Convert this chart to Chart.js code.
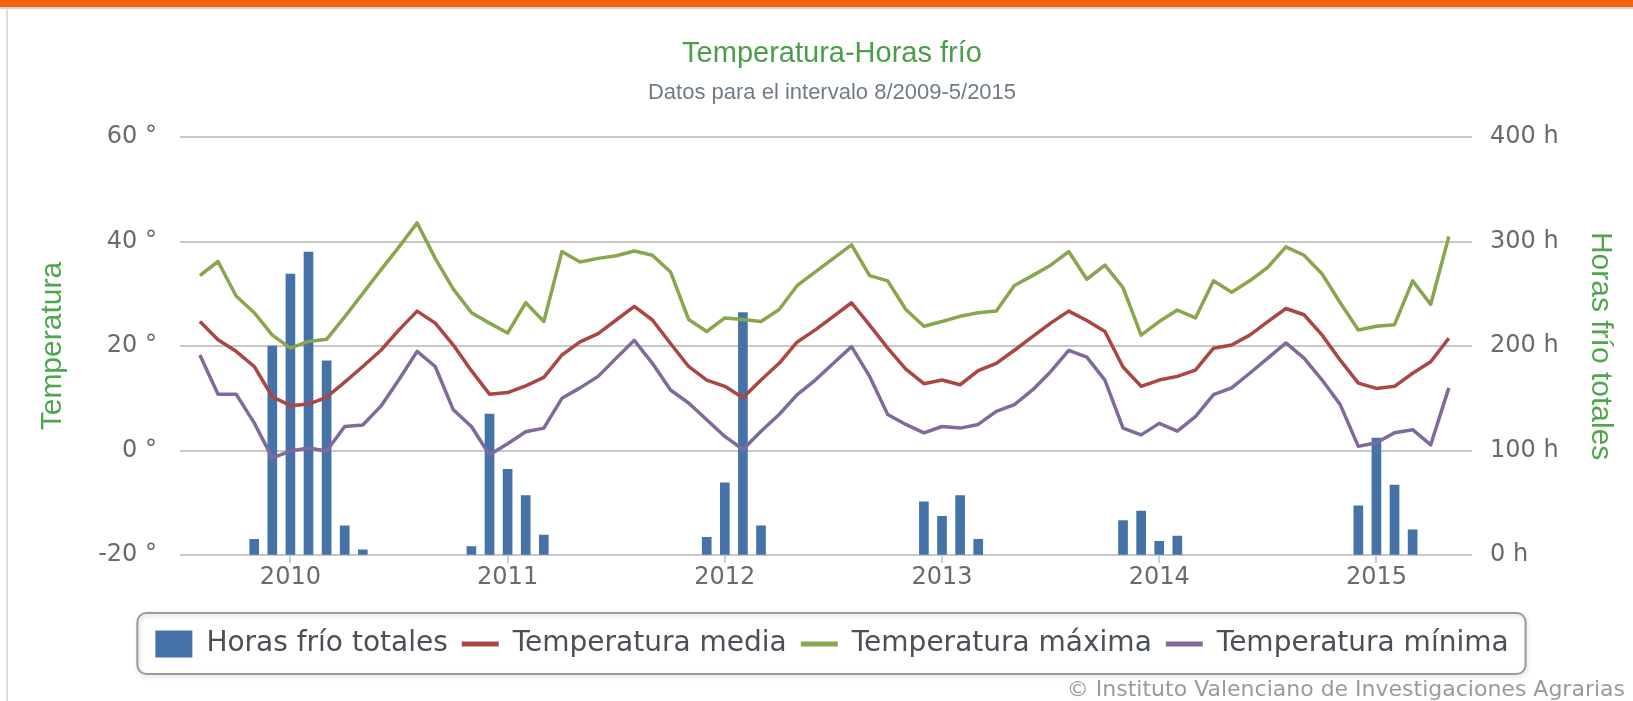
<!DOCTYPE html>
<html lang="es">
<head>
<meta charset="utf-8">
<title>Temperatura-Horas frío</title>
<script src="https://cdn.jsdelivr.net/npm/chart.js@4.4.1/dist/chart.umd.min.js"></script>
<style>
  html, body { margin: 0; padding: 0; background: #fff; overflow: hidden; }
  #top-bar { position: absolute; left: 0; top: 0; width: 1633px; height: 7px; background: #f7630c; }
  #top-rule { position: absolute; left: 0; top: 7px; width: 1633px; height: 2px; background: #d4d4d4; }
  #frame-left { position: absolute; left: 6px; top: 9px; width: 2px; height: 692px; background: #dedede; }
  #chart-wrap { position: absolute; left: 0; top: 0; width: 1633px; height: 701px; }
</style>
</head>
<body>
<div id="top-bar"></div>
<div id="top-rule"></div>
<div id="frame-left"></div>
<div id="chart-wrap"><canvas id="chart" width="1633" height="701"></canvas></div>
<script>
// Monthly values, 8/2009 .. 5/2015
const months = [
  '8/2009', '9/2009', '10/2009', '11/2009', '12/2009',
  '1/2010', '2/2010', '3/2010', '4/2010', '5/2010', '6/2010', '7/2010', '8/2010', '9/2010', '10/2010', '11/2010', '12/2010',
  '1/2011', '2/2011', '3/2011', '4/2011', '5/2011', '6/2011', '7/2011', '8/2011', '9/2011', '10/2011', '11/2011', '12/2011',
  '1/2012', '2/2012', '3/2012', '4/2012', '5/2012', '6/2012', '7/2012', '8/2012', '9/2012', '10/2012', '11/2012', '12/2012',
  '1/2013', '2/2013', '3/2013', '4/2013', '5/2013', '6/2013', '7/2013', '8/2013', '9/2013', '10/2013', '11/2013', '12/2013',
  '1/2014', '2/2014', '3/2014', '4/2014', '5/2014', '6/2014', '7/2014', '8/2014', '9/2014', '10/2014', '11/2014', '12/2014',
  '1/2015', '2/2015', '3/2015', '4/2015', '5/2015',
];

const chill_hours = [
  0, 0, 0, 15, 200,
  269, 290, 186, 28, 5, 0, 0, 0, 0, 0, 8, 135,
  82, 57, 19, 0, 0, 0, 0, 0, 0, 0, 0, 17,
  69, 232, 28, 0, 0, 0, 0, 0, 0, 0, 0, 51,
  37, 57, 15, 0, 0, 0, 0, 0, 0, 0, 33, 42,
  13, 18, 0, 0, 0, 0, 0, 0, 0, 0, 0, 47,
  112, 67, 24, 0, 0,
];

const temp_mean = [
  24.7, 21.2, 19.0, 16.1, 10.3,
  8.6, 8.9, 10.2, 13.1, 16.1, 19.2, 23.1, 26.7, 24.4, 20.2, 15.3, 10.8,
  11.1, 12.4, 14.0, 18.3, 20.8, 22.4, 25.0, 27.6, 25.0, 20.5, 16.1, 13.5,
  12.3, 10.1, 13.5, 16.7, 20.8, 23.1, 25.7, 28.3, 24.0, 19.6, 15.6, 12.8,
  13.5, 12.6, 15.3, 16.7, 19.2, 21.8, 24.4, 26.7, 24.9, 22.8, 16.0, 12.3,
  13.5, 14.2, 15.4, 19.6, 20.2, 22.1, 24.7, 27.2, 26.0, 22.1, 17.3, 12.9,
  11.9, 12.3, 14.8, 17.0, 21.5,
];

const temp_max = [
  33.5, 36.2, 29.6, 26.4, 22.1,
  19.6, 20.9, 21.3, 25.6, 30.1, 34.6, 39.0, 43.6, 36.8, 30.9, 26.4, 24.4,
  22.5, 28.3, 24.7, 38.1, 36.1, 36.8, 37.3, 38.2, 37.4, 34.2, 25.1, 22.8,
  25.4, 25.1, 24.7, 27.0, 31.6, 34.2, 36.8, 39.4, 33.5, 32.5, 27.0, 23.8,
  24.7, 25.7, 26.4, 26.7, 31.6, 33.5, 35.5, 38.1, 32.8, 35.5, 31.2, 22.1,
  24.7, 26.9, 25.4, 32.5, 30.3, 32.5, 35.1, 39.0, 37.4, 33.8, 28.3, 23.1,
  23.8, 24.1, 32.5, 28.0, 41.0,
];

const temp_min = [
  18.3, 10.8, 10.8, 5.3, -1.4,
  -0.1, 0.5, -0.1, 4.6, 4.9, 8.5, 13.6, 19.0, 16.1, 7.8, 4.6, -0.8,
  1.3, 3.6, 4.3, 10.0, 12.0, 14.2, 17.7, 21.1, 16.7, 11.6, 9.1, 5.9,
  2.7, 0.2, 3.7, 6.9, 10.7, 13.5, 16.7, 19.9, 14.2, 6.9, 5.0, 3.4,
  4.6, 4.3, 5.0, 7.5, 8.8, 11.6, 15.1, 19.2, 17.9, 13.5, 4.3, 3.0,
  5.2, 3.7, 6.5, 10.7, 12.0, 14.8, 17.7, 20.6, 17.7, 13.5, 8.8, 0.8,
  1.5, 3.4, 4.0, 1.1, 12.0,
];

const year_labels = ['2010', '2011', '2012', '2013', '2014', '2015'];
const year_tick_months = ['1/2010', '1/2011', '1/2012', '1/2013', '1/2014', '1/2015'];

const temp_ticks = [-20, 0, 20, 40, 60];
const hour_ticks = [0, 100, 200, 300, 400];

const credits_text = '\u00a9 Instituto Valenciano de Investigaciones Agrarias';

const FONT = '"DejaVu Sans", Verdana, sans-serif';
const TITLE_FONT = '"Liberation Sans", Arial, sans-serif';
const GREEN_TEXT = '#4fa64f';
const LABEL_COLOR = '#6a6a6a';

const year_ticks = year_tick_months.map(m => months.indexOf(m));
const to_points = (values) => values.map((v, i) => ({ x: i, y: v }));
// months without chill hours get no bar at all
const to_bar_points = (values) => values.map((v, i) => ({ x: i, y: v > 0 ? v : null }));

Chart.defaults.font.family = FONT;

// Rounded frame around the legend items, plus the credits line.
const legend_frame = {
  id: 'legend_frame',
  afterDraw(chart) {
    const ctx = chart.ctx;
    const boxes = chart.legend && chart.legend.legendHitBoxes;
    if (boxes && boxes.length) {
      const first = boxes[0];
      const last = boxes[boxes.length - 1];
      const cy = first.top + first.height / 2;
      const left = first.left - 18;
      const right = last.left + last.width + 17;
      ctx.save();
      ctx.shadowColor = 'rgba(0, 0, 0, 0.18)';
      ctx.shadowBlur = 4;
      ctx.shadowOffsetX = 1;
      ctx.shadowOffsetY = 2;
      ctx.strokeStyle = '#9a9a9a';
      ctx.lineWidth = 2;
      ctx.beginPath();
      ctx.roundRect(left, cy - 31, right - left, 61, 9);
      ctx.stroke();
      ctx.restore();
    }
    ctx.save();
    ctx.font = '22px ' + FONT;
    ctx.fillStyle = '#9a9a9a';
    ctx.textAlign = 'right';
    ctx.textBaseline = 'middle';
    ctx.fillText(credits_text, chart.width - 8, chart.height - 11);
    ctx.restore();
  }
};

new Chart(document.getElementById('chart'), {
  type: 'bar',
  data: {
    datasets: [
      {
        type: 'bar',
        label: 'Horas frío totales',
        data: to_bar_points(chill_hours),
        yAxisID: 'y1',
        backgroundColor: '#4572A7',
        borderWidth: 0,
        barThickness: 9,
        order: 2,
      },
      {
        type: 'line',
        label: 'Temperatura media',
        data: to_points(temp_mean),
        yAxisID: 'y',
        borderColor: '#AA4643',
        backgroundColor: '#AA4643',
        borderWidth: 3.5,
        pointRadius: 0,
        tension: 0,
        borderJoinStyle: 'round',
        order: 1,
      },
      {
        type: 'line',
        label: 'Temperatura máxima',
        data: to_points(temp_max),
        yAxisID: 'y',
        borderColor: '#89A54E',
        backgroundColor: '#89A54E',
        borderWidth: 3.5,
        pointRadius: 0,
        tension: 0,
        borderJoinStyle: 'round',
        order: 1,
      },
      {
        type: 'line',
        label: 'Temperatura mínima',
        data: to_points(temp_min),
        yAxisID: 'y',
        borderColor: '#80699B',
        backgroundColor: '#80699B',
        borderWidth: 3.5,
        pointRadius: 0,
        tension: 0,
        borderJoinStyle: 'round',
        order: 1,
      },
    ],
  },
  options: {
    responsive: false,
    animation: false,
    layout: { padding: { top: 0, left: 31, right: 0, bottom: 33 } },
    scales: {
      x: {
        type: 'linear',
        min: -1.1,
        max: 70.28,
        offset: false,
        afterBuildTicks: (scale) => {
          scale.ticks = year_ticks.map(v => ({ value: v }));
        },
        ticks: {
          autoSkip: false,
          maxRotation: 0,
          padding: 0,
          color: LABEL_COLOR,
          font: { size: 24 },
          callback: (value) => year_labels[year_ticks.indexOf(value)],
        },
        grid: {
          offset: false,
          drawOnChartArea: false,
          drawTicks: true,
          tickLength: 8,
          color: '#c0d0e0',
          lineWidth: 2,
        },
        border: { display: false },
        afterFit: (scale) => { scale.height = 61; },
      },
      y: {
        position: 'left',
        min: -20,
        max: 60,
        afterBuildTicks: (scale) => {
          scale.ticks = temp_ticks.map(v => ({ value: v }));
        },
        ticks: {
          padding: 23,
          color: LABEL_COLOR,
          font: { size: 24 },
          callback: (value) => value + ' °',
        },
        grid: { color: '#c8c8c8', lineWidth: 2, drawTicks: false },
        border: { display: false },
        title: {
          display: true,
          text: 'Temperatura',
          color: GREEN_TEXT,
          font: { family: TITLE_FONT, size: 30 },
          padding: { top: 4, bottom: 0 },
        },
        afterFit: (scale) => { scale.width = 149; },
      },
      y1: {
        position: 'right',
        min: 0,
        max: 400,
        afterBuildTicks: (scale) => {
          scale.ticks = hour_ticks.map(v => ({ value: v }));
        },
        ticks: {
          padding: 18,
          color: LABEL_COLOR,
          font: { size: 24 },
          callback: (value) => value + ' h',
        },
        grid: { drawOnChartArea: false, drawTicks: false },
        border: { display: false },
        title: {
          display: true,
          text: 'Horas frío totales',
          color: GREEN_TEXT,
          font: { family: TITLE_FONT, size: 30 },
          padding: { top: 15, bottom: 0 },
        },
        afterFit: (scale) => { scale.width = 161; },
      },
    },
    plugins: {
      title: {
        display: true,
        text: 'Temperatura-Horas frío',
        color: '#4a9d4a',
        font: { family: TITLE_FONT, size: 29, weight: 'normal' },
        padding: { top: 37, bottom: 0 },
      },
      subtitle: {
        display: true,
        text: 'Datos para el intervalo 8/2009-5/2015',
        color: '#707b88',
        font: { family: TITLE_FONT, size: 22, weight: 'normal' },
        padding: { top: 8, bottom: 31 },
      },
      legend: {
        position: 'bottom',
        labels: {
          font: { size: 28 },
          color: '#4a5058',
          usePointStyle: true,
          pointStyleWidth: 37,
          boxHeight: 27,
          padding: 14,
          generateLabels: (chart) => chart.data.datasets.map((ds, i) => ({
            text: ds.label,
            fillStyle: ds.backgroundColor,
            strokeStyle: ds.borderColor || ds.backgroundColor,
            lineWidth: ds.type === 'bar' ? 0 : 5,
            pointStyle: ds.type === 'bar' ? 'rect' : 'line',
            fontColor: '#4a5058',
            hidden: false,
            datasetIndex: i,
          })),
        },
      },
      tooltip: { enabled: false },
    },
  },
  plugins: [legend_frame],
});
</script>
</body>
</html>
